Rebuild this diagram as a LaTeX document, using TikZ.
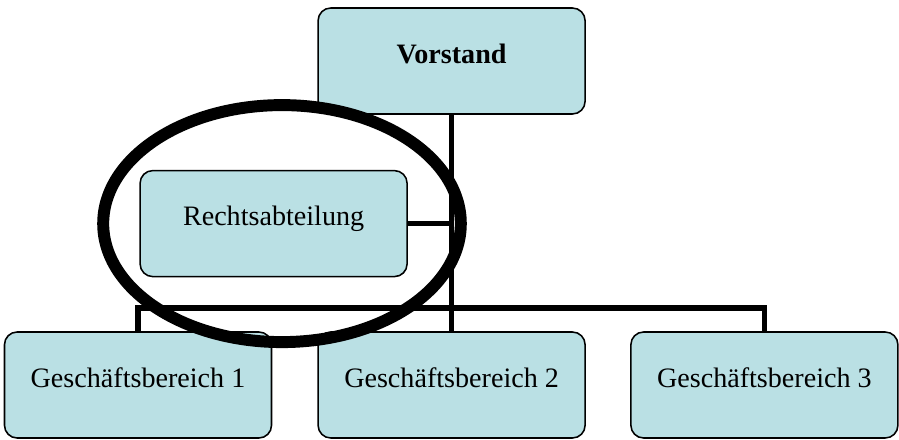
\documentclass[tikz,border=0pt]{standalone}
\usepackage{fontspec}
\setmainfont{Liberation Serif}
\definecolor{boxcyan}{RGB}{186, 224, 228}
\usetikzlibrary{shapes.geometric, positioning, calc}

\begin{document}
\begin{tikzpicture}[
    orgbox/.style={draw, line width=1.1pt, rounded corners=9pt, fill=boxcyan, minimum width=6.675cm, minimum height=2.65cm, text depth=11pt, font=\fontsize{20}{24}\selectfont},
    link/.style={line width=3.9pt}
  ]
  \useasboundingbox (0, 0) rectangle (22.475, -11);

  % chart boxes
  \node[orgbox, font=\fontsize{20}{24}\selectfont\bfseries] (vorstand) at (11.29, -1.525) {Vorstand};
  \node[orgbox] (recht) at (6.84, -5.59) {Rechtsabteilung};
  \node[orgbox] (gb1) at (3.45, -9.625) {Geschäftsbereich 1};
  \node[orgbox] (gb2) at (11.29, -9.625) {Geschäftsbereich 2};
  \node[orgbox] (gb3) at (19.11, -9.625) {Geschäftsbereich 3};

  % lines
  \draw[link] (vorstand.south) -- (gb2.north);
  \draw[link] (recht.east) -- (recht.east -| vorstand.south);
  \coordinate (bus) at ($(gb1.north) + (0, 0.575)$);
  \draw[link] (gb1.north) -- (bus) -| (gb3.north);

  % highlight ring
  \node[draw, line width=8.5pt, ellipse, minimum width=8.94cm, minimum height=5.925cm, inner sep=0pt] (ring) at (7.05, -5.59) {};
\end{tikzpicture}
\end{document}
